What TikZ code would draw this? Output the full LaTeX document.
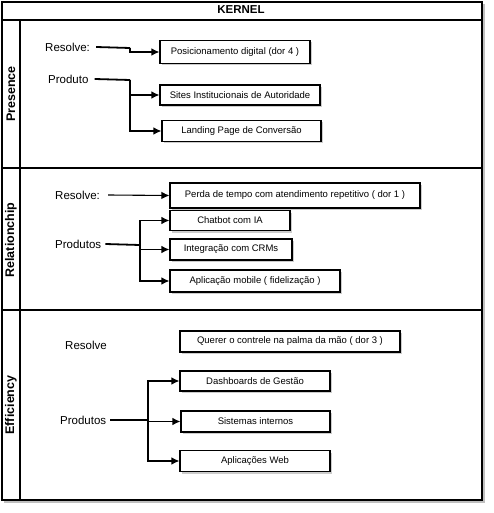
\documentclass[tikz,border=0pt]{standalone}
\usepackage{fontspec}
\setmainfont{Liberation Sans}
\usetikzlibrary{arrows.meta,shadows}
\begin{document}
\begin{tikzpicture}[x=1pt,y=-1pt,
  frame/.style={draw=black,line width=1.2pt},
  shade/.style={draw=black!25,line width=1.6pt},
  box/.style={draw=black,line width=1.1pt,fill=white,inner sep=2pt,
    font=\fontsize{9.5}{11}\selectfont,
    drop shadow={shadow xshift=1.8pt,shadow yshift=-2pt,opacity=0.4}},
  lbl/.style={anchor=west,inner sep=0pt,font=\fontsize{11.5}{13}\selectfont},
  lane/.style={rotate=90,inner sep=0pt,font=\bfseries\fontsize{12.5}{14}\selectfont},
  arr/.style={draw=black,line width=1.1pt,-{Latex[length=8pt,width=7.5pt]}},
  stem/.style={draw=black,line width=1.8pt}]
\useasboundingbox (0,0) rectangle (493,513);
% shadows of the frame
\draw[shade] (4,502) -- (484,502) -- (484,4);
% frame
\draw[frame] (2,2) rectangle (482,500);
\draw[frame] (2,20) -- (482,20);
\draw[frame] (20,20) -- (20,500);
\draw[frame] (2,168) -- (482,168);
\draw[frame] (2,310) -- (482,310);
\node[inner sep=0pt,font=\bfseries\fontsize{11.5}{13}\selectfont] (kernel) at (241,10) {KERNEL};
\node[lane] (lp) at (11,94) {Presence};
\node[lane] (lr) at (11,240) {Relationchip};
\node[lane] (le) at (11,405) {Efficiency};

% Presence
\node[lbl] (pres) at (45,47) {Resolve:};
\node[lbl] (pprod) at (48,79) {Produto};
\node[box,minimum width=150pt,minimum height=23pt] (p1) at (235,52) {Posicionamento digital (dor 4 )};
\node[box,minimum width=160pt,minimum height=20pt] (p2) at (240,95) {Sites Institucionais de Autoridade};
\node[box,minimum width=159pt,minimum height=21pt] (p3) at (241.5,131) {Landing Page de Conversão};
\coordinate (pj1) at (130,48);
\coordinate (pj2) at (130,80);
\draw[stem] ([xshift=6pt]pres.east) -- (pj1);
\draw[arr] (pj1) |- (p1.west);
\draw[stem] ([xshift=6pt]pprod.east) -- (pj2);
\draw[arr] (pj2) |- (p2.west);
\draw[arr] (pj2) |- (p3.west);

% Relationship
\node[lbl] (rres) at (55,195) {Resolve:};
\node[lbl] (rprod) at (55,244) {Produtos};
\node[box,minimum width=250pt,minimum height=25pt] (r1) at (295,195.5) {Perda de tempo com atendimento repetitivo ( dor 1 )};
\node[box,minimum width=120pt,minimum height=20pt] (r2) at (230,220.5) {Chatbot com IA};
\node[box,minimum width=122pt,minimum height=21pt] (r3) at (231,249.5) {Integração com CRMs};
\node[box,minimum width=170pt,minimum height=22pt] (r4) at (255,281) {Aplicação mobile ( fidelização )};
\coordinate (rj) at (140,245);
\draw[arr] ([xshift=8pt]rres.east) -- (r1.west);
\draw[stem] ([xshift=4pt]rprod.east) -- (rj);
\draw[arr] (rj) |- (r2.west);
\draw[arr] (rj) |- (r3.west);
\draw[arr] (rj) |- (r4.west);

% Efficiency
\node[lbl] (eres) at (65,345) {Resolve};
\node[lbl] (eprod) at (60,420) {Produtos};
\node[box,minimum width=220pt,minimum height=21pt] (e1) at (290,341.5) {Querer o contrele na palma da mão ( dor 3 )};
\node[box,minimum width=150pt,minimum height=20pt] (e2) at (255,381) {Dashboards de Gestão};
\node[box,minimum width=149pt,minimum height=21pt] (e3) at (255.5,421.5) {Sistemas internos};
\node[box,minimum width=150pt,minimum height=21pt] (e4) at (255,461) {Aplicações Web};
\coordinate (ej) at (148,420);
\draw[stem] ([xshift=4pt]eprod.east) -- (ej);
\draw[arr] (ej) |- (e2.west);
\draw[arr] (ej) |- (e3.west);
\draw[arr] (ej) |- (e4.west);
\end{tikzpicture}
\end{document}
